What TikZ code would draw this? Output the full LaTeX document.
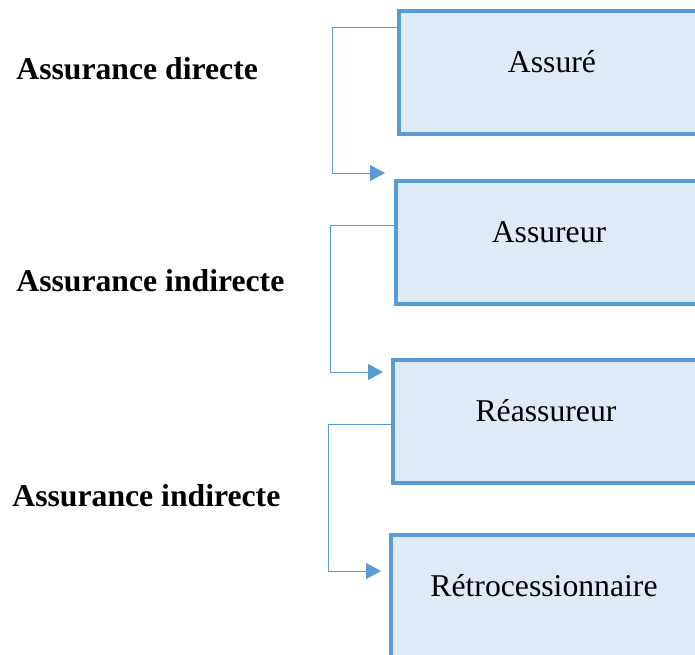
\documentclass[tikz,border=0pt]{standalone}
\usepackage{fontspec}
\setmainfont{Liberation Serif}
\usetikzlibrary{arrows.meta}
\definecolor{boxblue}{RGB}{91,155,213}
\definecolor{boxfill}{RGB}{222,234,246}
\newcommand{\labelsize}{\fontsize{15.85}{19}\selectfont}
\tikzset{
  role/.style={draw=boxblue, line width=2pt, fill=boxfill, anchor=north west,
    minimum width=153pt, minimum height=61.5pt, inner sep=0pt, outer sep=0pt,
    text height=30.5pt, text depth=31pt},
  kind/.style={anchor=base west, inner sep=0pt, font=\labelsize\bfseries},
  link/.style={draw=boxblue, line width=0.5pt, -{Triangle[length=7.5pt,width=8pt]}},
}
\begin{document}
\begin{tikzpicture}[x=0.5pt, y=-0.5pt, font=\labelsize]
            \useasboundingbox (0,0) rectangle (695,654);
            \clip (0,0) rectangle (695,654);
            % boxes
            \node[role] (assure) at (399,11) {Assuré};
            \node[role] (assureur) at (396,181) {Assureur};
            \node[role] (reassureur) at (393,360) {Réassureur};
            \node[role] (retro) at (391,535) {Rétrocessionnaire};
            % labels on the left
            \node[kind] (directe) at (16,79) {Assurance directe};
            \node[kind] (indirecte1) at (16,291) {Assurance indirecte};
            \node[kind] (indirecte2) at (12,506) {Assurance indirecte};
            % arrow ends
            \coordinate (tip1) at (385,173);
            \coordinate (tip2) at (383,372);
            \coordinate (tip3) at (381,571);
            \draw[link] (assure.west |- 0,27) -| (332,173) -- (tip1);
            \draw[link] (assureur.west |- 0,225) -| (330,372) -- (tip2);
            \draw[link] (reassureur.west |- 0,424) -| (328,571) -- (tip3);
        \end{tikzpicture}
\end{document}
